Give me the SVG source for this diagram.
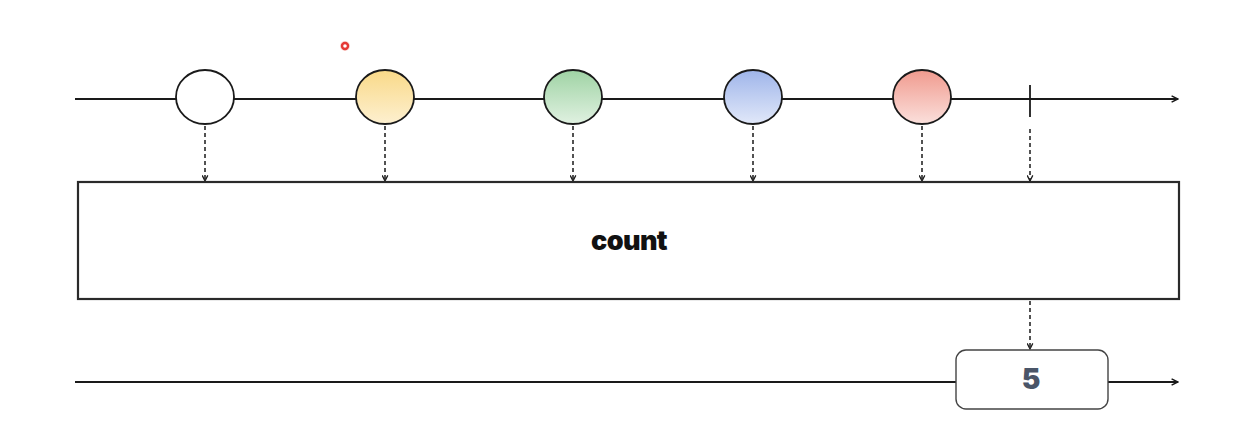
<svg xmlns="http://www.w3.org/2000/svg" width="1242" height="424" viewBox="0 0 1242 424">
<style>
.line{stroke:#1a1a1a;stroke-width:1.8;fill:none}
.dash{stroke:#1a1a1a;stroke-width:1.5;stroke-dasharray:4 3;fill:none}
.marble{stroke:#1a1a1a;stroke-width:1.8}
.box{fill:#fff;stroke:#2a2a2a;stroke-width:2.2}
.lbl{font-family:Inter,"Liberation Sans",sans-serif;font-weight:900;text-anchor:middle}
</style>
<defs>
<marker id="arr" viewBox="0 0 10 10" refX="9" refY="5" markerWidth="8" markerHeight="8" markerUnits="userSpaceOnUse" orient="auto"><path d="M1,1 L9,5 L1,9" fill="none" stroke="#1a1a1a" stroke-width="1.8"/></marker>
<marker id="arrs" viewBox="0 0 10 10" refX="9" refY="5" markerWidth="7" markerHeight="7" markerUnits="userSpaceOnUse" orient="auto"><path d="M1,1 L9,5 L1,9" fill="none" stroke="#1a1a1a" stroke-width="1.8"/></marker>
<linearGradient id="gy" x1="0" y1="0" x2="0" y2="1"><stop offset="0" stop-color="#f9d988"/><stop offset="1" stop-color="#fdf0d0"/></linearGradient>
<linearGradient id="gg" x1="0" y1="0" x2="0" y2="1"><stop offset="0" stop-color="#9fd3a4"/><stop offset="1" stop-color="#e0f1e1"/></linearGradient>
<linearGradient id="gb" x1="0" y1="0" x2="0" y2="1"><stop offset="0" stop-color="#9fb5ea"/><stop offset="1" stop-color="#e1e8f9"/></linearGradient>
<linearGradient id="gr" x1="0" y1="0" x2="0" y2="1"><stop offset="0" stop-color="#f09a8e"/><stop offset="1" stop-color="#fbe0dc"/></linearGradient>
</defs>
<g id="connectors">
<line class="line" x1="75" y1="99" x2="1178" y2="99" marker-end="url(#arr)"/>
<line class="line" x1="75" y1="382" x2="1178" y2="382" marker-end="url(#arr)"/>
<line class="dash" x1="205" y1="126" x2="205" y2="181" marker-end="url(#arrs)"/>
<line class="dash" x1="385" y1="126" x2="385" y2="181" marker-end="url(#arrs)"/>
<line class="dash" x1="573" y1="126" x2="573" y2="181" marker-end="url(#arrs)"/>
<line class="dash" x1="753" y1="126" x2="753" y2="181" marker-end="url(#arrs)"/>
<line class="dash" x1="922" y1="126" x2="922" y2="181" marker-end="url(#arrs)"/>
<line class="dash" x1="1030" y1="129" x2="1030" y2="181" marker-end="url(#arrs)"/>
<line class="dash" x1="1030" y1="301" x2="1030" y2="349" marker-end="url(#arrs)"/>
</g>
<g id="m1"><ellipse class="marble" cx="205" cy="97" rx="29" ry="27" fill="#fff"/></g>
<g id="m2"><ellipse class="marble" cx="385" cy="97" rx="29" ry="27" fill="url(#gy)"/></g>
<g id="m3"><ellipse class="marble" cx="573" cy="97" rx="29" ry="27" fill="url(#gg)"/></g>
<g id="m4"><ellipse class="marble" cx="753" cy="97" rx="29" ry="27" fill="url(#gb)"/></g>
<g id="m5"><ellipse class="marble" cx="922" cy="97" rx="29" ry="27" fill="url(#gr)"/></g>
<g id="complete"><line class="line" x1="1030" y1="85" x2="1030" y2="117"/></g>
<g id="count">
<rect class="box" x="78" y="182" width="1101" height="117"/>
<text class="lbl" x="629" y="250" font-size="27" fill="#111" letter-spacing="-0.6">count</text>
</g>
<g id="result">
<rect x="956" y="350" width="152" height="59" rx="10" fill="#fff" stroke="#444" stroke-width="1.4"/>
<text class="lbl" x="1031" y="389" font-size="28" fill="#4a5568">5</text>
</g>
<g id="cursor"><circle cx="345" cy="46" r="5" fill="#f28b82" opacity="0.35"/><circle cx="345" cy="46" r="3" fill="#fff" stroke="#e53935" stroke-width="2.4"/></g>
</svg>
